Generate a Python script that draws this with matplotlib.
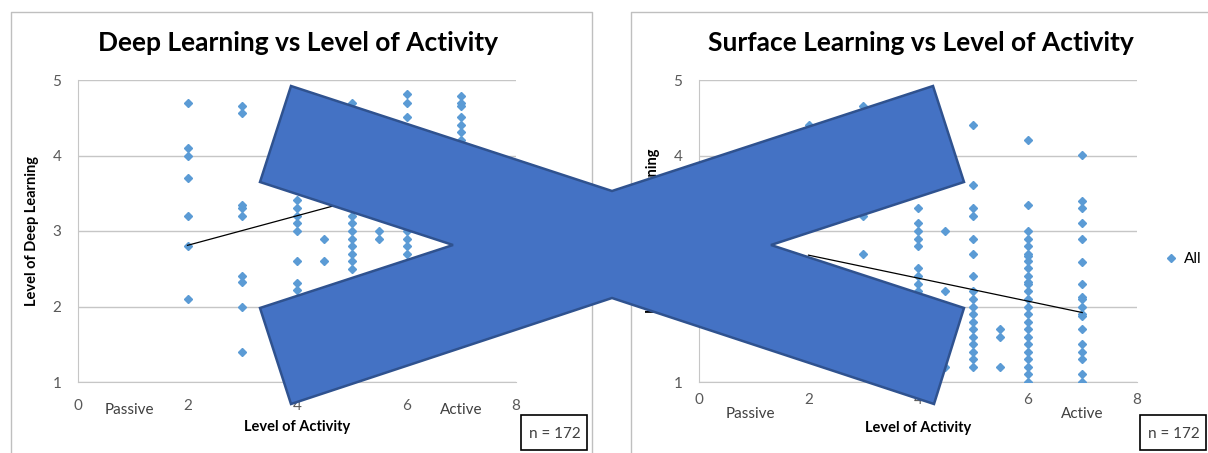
import matplotlib
matplotlib.use('Agg')
import matplotlib.pyplot as plt
from matplotlib.patches import Polygon, Rectangle
from matplotlib.lines import Line2D

plt.rcParams['font.family'] = ['Liberation Sans Narrow', 'Lato', 'DejaVu Sans']

W, H = 1208, 453

# Deep learning score against level of activity
deep_activity = ([2] * 7 + [3] * 9 + [4] * 8 + [4.5] * 2 + [5] * 9 +
                 [5.5] * 2 + [6] * 7 + [7] * 7)
deep_score = [4.70, 4.10, 4.00, 3.70, 3.20, 2.80, 2.10,
              4.66, 4.56, 3.34, 3.30, 3.20, 2.40, 2.33, 2.00, 1.40,
              3.41, 3.31, 3.20, 3.10, 3.00, 2.60, 2.31, 2.22,
              2.90, 2.60,
              4.70, 3.20, 3.10, 3.00, 2.90, 2.80, 2.70, 2.60, 2.50,
              3.00, 2.90,
              4.81, 4.70, 4.51, 3.00, 2.90, 2.80, 2.70,
              4.79, 4.69, 4.66, 4.51, 4.41, 4.31, 4.21]

# Surface learning score against level of activity
surf_activity = ([2] * 1 + [3] * 3 + [4] * 10 + [4.5] * 3 + [5] * 18 +
                 [5.5] * 3 + [6] * 25 + [7] * 18)
surf_score = [4.41,
              4.66, 3.20, 2.70,
              3.31, 3.10, 3.00, 2.90, 2.80, 2.51, 2.40, 2.30, 2.21, 1.20,
              3.00, 2.20, 1.20,
              4.41, 3.61, 3.31, 3.20, 2.90, 2.70, 2.40, 2.21, 2.10, 2.00,
              1.90, 1.80, 1.70, 1.60, 1.50, 1.40, 1.30, 1.20,
              1.70, 1.60, 1.20,
              4.21, 3.34, 3.00, 2.90, 2.80, 2.70, 2.67, 2.60, 2.51, 2.40,
              2.33, 2.30, 2.20, 2.10, 2.00, 1.90, 1.80, 1.70, 1.60, 1.50,
              1.40, 1.30, 1.20, 1.10, 1.00,
              4.01, 3.40, 3.31, 3.10, 2.90, 2.59, 2.30, 2.13, 2.10, 2.00,
              1.90, 1.87, 1.70, 1.50, 1.40, 1.30, 1.10, 1.00]

# linear trendlines (Excel), start and end values
trend_x = [2, 7]
deep_trend = [2.81, 3.79]
surf_trend = [2.68, 1.92]

xticks = [0, 2, 4, 6, 8]
yticks = [1, 2, 3, 4, 5]
n_label = 'n = 172'


def fx(x):
    return x / W


def fy(y):
    return 1 - y / H


fig = plt.figure(figsize=(W / 100, H / 100), dpi=100)

# chart area borders
for xs, ys in [([11, 11, 592, 592], [H, 12, 12, H]),
               ([631, 631, W], [H, 12, 12])]:
    fig.add_artist(Line2D([fx(v) for v in xs], [fy(v) for v in ys],
                          transform=fig.transFigure, color='#BFBFBF', lw=1))


def panel(left, act, score, trend, title, ylabel, tick_pad, cx,
          lbl_y, xlab_y, box_x):
    ax = fig.add_axes([fx(left), fy(382), 438 / W, 302 / H])
    pts, = ax.plot(act, score, linestyle='none', marker='D', ms=3.7,
                   color='#5B9BD5', label='All', zorder=3)
    ax.plot(trend_x, trend, color='black', lw=0.9, zorder=4)
    ax.set_xlim(0, 8)
    ax.set_ylim(1, 5)
    ax.set_xticks(xticks)
    ax.set_yticks(yticks)
    ax.grid(axis='y', color='#C6C6C6', lw=1)
    ax.set_axisbelow(True)
    for s in ['top', 'right']:
        ax.spines[s].set_visible(False)
    for s in ['left', 'bottom']:
        ax.spines[s].set_color('#C6C6C6')
    ax.tick_params(length=0, labelsize=11, labelcolor='#595959')
    ax.tick_params(axis='x', pad=tick_pad)
    ax.tick_params(axis='y', pad=12)
    ax.set_ylabel(ylabel, fontsize=10.5, fontweight='bold', labelpad=10)

    fig.text(fx(cx), fy(43), title, fontsize=19, fontweight='bold',
             ha='center', va='center')
    fig.text(fx(left + 0.93 * 54.8), fy(lbl_y), 'Passive', fontsize=11,
             color='#404040', ha='center', va='center')
    fig.text(fx(left + 7.0 * 54.8), fy(lbl_y), 'Active', fontsize=11,
             color='#404040', ha='center', va='center')
    fig.text(fx(left + 219), fy(xlab_y), 'Level of Activity', fontsize=10.5,
             fontweight='bold', ha='center', va='center')

    fig.add_artist(Rectangle((fx(box_x), fy(450)), 66 / W, 35 / H,
                             transform=fig.transFigure, facecolor='white',
                             edgecolor='black', lw=1.2))
    fig.text(fx(box_x + 34), fy(434), n_label, fontsize=11,
             color='#404040', ha='center', va='center')
    return ax, pts


ax1, _ = panel(78, deep_activity, deep_score, deep_trend,
               'Deep Learning vs Level of Activity', 'Level of Deep Learning',
               12, 298, 410, 427, 521)
ax2, pts2 = panel(699, surf_activity, surf_score, surf_trend,
                  'Surface Learning vs Level of Activity',
                  'Level of Surface Learning', 8, 921, 414, 428, 1140)

fig.legend(handles=[pts2], loc='center left',
           bbox_to_anchor=(fx(1163), fy(259)), frameon=False, fontsize=11,
           borderpad=0, borderaxespad=0, handlelength=1, handletextpad=0.4)

# big cross drawn over both charts
cross = [(291, 86), (612, 191), (933, 86), (964, 182), (771, 245),
         (964, 308), (934, 404), (612, 298), (291, 404), (260, 308),
         (453, 245), (260, 182)]
fig.add_artist(Polygon([(fx(x), fy(y)) for x, y in cross], closed=True,
                       transform=fig.transFigure, facecolor='#4472C4',
                       edgecolor='#2F528F', lw=1.8, zorder=10))

fig.savefig('out.png', dpi=100)
